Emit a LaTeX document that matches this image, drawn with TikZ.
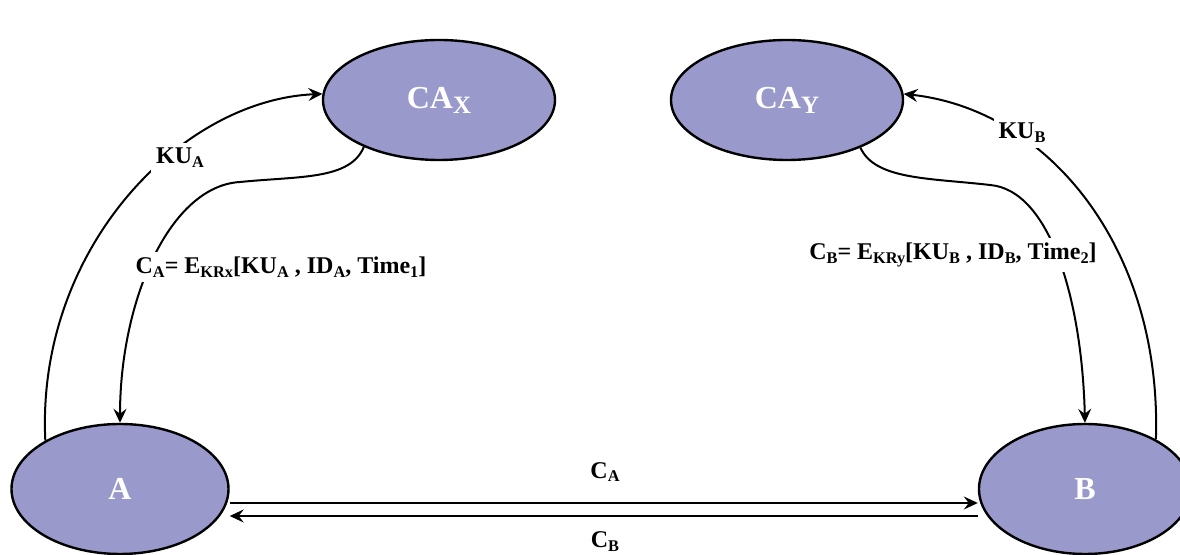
\documentclass[tikz,border=0pt]{standalone}
\usepackage{fontspec}
\setmainfont{Liberation Serif}
\usetikzlibrary{arrows.meta,shapes.geometric}

\definecolor{partyfill}{HTML}{9999CC}
\newcommand{\low}[2][0.68]{\raisebox{-0.35ex}{\scalebox{#1}{#2}}}

\begin{document}
\begin{tikzpicture}[x=0.5pt, y=-0.5pt,
    party/.style={ellipse, draw, line width=1.2pt, fill=partyfill, text=white,
        inner sep=0pt, font=\fontsize{16}{18}\selectfont\bfseries},
    msg/.style={fill=white, inner sep=2.5pt, font=\fontsize{12}{14}\selectfont\bfseries},
    link/.style={line width=1pt, -{Stealth[length=7pt, width=6.5pt, inset=2.5pt]}}]

    \useasboundingbox (0,0) rectangle (1180,555);

    % 認証局 CA_X, CA_Y
    \node[party, minimum width=116pt, minimum height=60pt] (CAX) at (439,100) {CA\low[0.78]{X}};
    \node[party, minimum width=116pt, minimum height=60pt] (CAY) at (787,100) {CA\low[0.78]{Y}};

    % 利用者 A, B
    \node[party, minimum width=108.5pt, minimum height=65pt] (A) at (120,489) {A};
    \node[party, minimum width=106pt, minimum height=65pt] (B) at (1085,489) {B};

    % A と CA_X の間
    \draw[link] (A.147) .. controls (36,250) and (180,100) .. (CAX.177);
    \draw[link] (CAX.212) .. controls (350,180) and (300,176) .. (240,182)
        .. controls (170,186) and (120,300) .. (A.north);

    % B と CA_Y の間
    \draw[link] (B.35) .. controls (1162,250) and (1050,110) .. (CAY.3);
    \draw[link] (CAY.-33) .. controls (875,180) and (930,178) .. (990,185)
        .. controls (1050,190) and (1082,300) .. (B.north);

    % A と B の間
    \draw[link] ([yshift=-7pt]A.east) -- ([yshift=-7pt]B.west);
    \draw[link] ([yshift=-13.5pt]B.west) -- ([yshift=-13.5pt]A.east);

    % ラベル
    \node[msg] (kua) at (180,158) {KU\low{A}};
    \node[msg] (certa) at (281,267) {C\low{A}= E\low{KRx}[KU\low{A} , ID\low{A}, Time\low{1}]};
    \node[msg] (kub) at (1022,133) {KU\low{B}};
    \node[msg] (certb) at (953,255) {C\low{B}= E\low{KRy}[KU\low{B} , ID\low{B}, Time\low{2}]};
    \node[msg] (senda) at (605,472) {C\low{A}};
    \node[msg] (sendb) at (605,542) {C\low{B}};

\end{tikzpicture}
\end{document}
